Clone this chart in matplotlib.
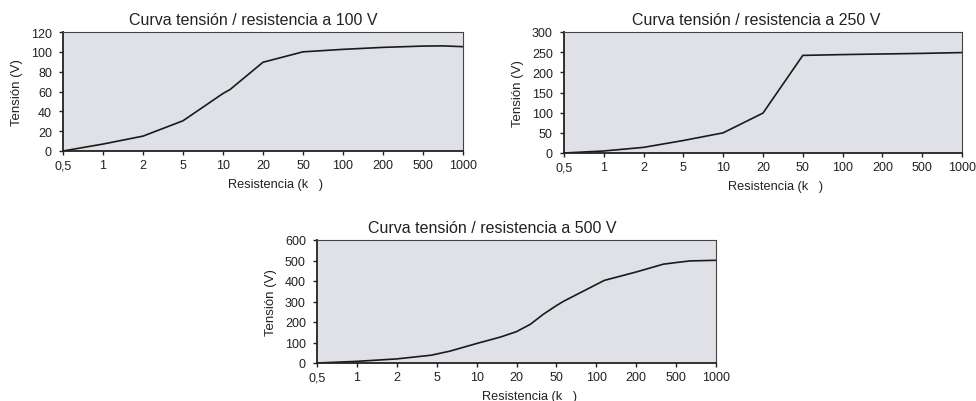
import numpy as np
import matplotlib
matplotlib.use("Agg")
import matplotlib.pyplot as plt

plt.rcParams['font.family'] = ['Liberation Sans', 'DejaVu Sans']

tick_values = [0.5, 1, 2, 5, 10, 20, 50, 100, 200, 500, 1000]
tick_labels = ["0,5", "1", "2", "5", "10", "20", "50", "100", "200", "500", "1000"]

r100 = [0.5, 1, 2, 5, 10, 11.3, 20, 50, 100, 200, 500, 700, 1000]
v100 = [0, 7, 15, 30.5, 58, 62, 89.5, 100, 102.5, 104.5, 105.8, 106, 105.2]

r250 = [0.5, 1, 2, 5, 10, 20, 50, 100, 200, 500, 1000]
v250 = [0, 5, 14, 31, 50, 99, 242, 244, 245.5, 247, 249]

r500 = [0.5, 1, 2, 4.4, 6.3, 10, 15.2, 20, 27.5, 37.1, 50, 56.6, 100, 115,
        200, 372, 500, 637, 1000]
v500 = [0, 8, 20, 38, 58, 95, 127, 153, 189, 238, 280, 301, 383, 403,
        444, 482, 490, 498, 501]

titles = ["Curva tensión / resistencia a 100 V",
          "Curva tensión / resistencia a 250 V",
          "Curva tensión / resistencia a 500 V"]
yticks = [[0, 20, 40, 60, 80, 100, 120],
          [0, 50, 100, 150, 200, 250, 300],
          [0, 100, 200, 300, 400, 500, 600]]

logt = np.log10(tick_values)
idx = np.arange(len(tick_values), dtype=float)

def fwd(r):
    r = np.asarray(r, dtype=float)
    return np.interp(np.log10(np.clip(r, 1e-9, None)), logt, idx)

def inv(x):
    return 10 ** np.interp(np.asarray(x, dtype=float), idx, logt)

W, H = 976, 402
fig = plt.figure(figsize=(W / 100, H / 100), dpi=100)

# axes boxes in pixels: left, right, top, bottom
boxes = [(63, 463, 33, 152), (564, 962, 33, 154), (317, 716, 241, 364)]
title_x = [0.475, 0.482, 0.439]
data = [(r100, v100), (r250, v250), (r500, v500)]

for (l, rgt, t, b), (rr, vv), title, yt, tx in zip(boxes, data, titles, yticks, title_x):
    ax = fig.add_axes([l / W, 1 - b / H, (rgt - l) / W, (b - t) / H])
    ax.set_facecolor('#dfe1e6')
    ax.set_xscale('function', functions=(fwd, inv))
    ax.plot(rr, vv, color='#1a1a1a', lw=1.2)
    ax.set_xlim(0.5, 1000)
    ax.set_ylim(yt[0], yt[-1])
    ax.set_xticks(tick_values)
    ax.set_xticklabels(tick_labels)
    ax.minorticks_off()
    ax.set_yticks(yt)
    ax.tick_params(direction='out', length=3, width=1, labelsize=9,
                   colors='#222222')
    ax.tick_params(axis='y', pad=5)
    ax.tick_params(axis='x', pad=3)
    for s in ['left', 'bottom']:
        ax.spines[s].set_linewidth(1.3)
        ax.spines[s].set_color('#222222')
    for s in ['top', 'right']:
        ax.spines[s].set_linewidth(0.8)
        ax.spines[s].set_color('#444444')
    ax.set_title(title, fontsize=11.5, color='#222222', pad=6, x=tx)
    ax.set_xlabel("Resistencia (k   )", fontsize=9.2, color='#222222',
                  labelpad=5, x=0.5 + 13 / (rgt - l))
    ax.set_ylabel("Tensión (V)", fontsize=9.5, color='#222222', labelpad=6)

fig.savefig("out.png", dpi=100, facecolor='white')
